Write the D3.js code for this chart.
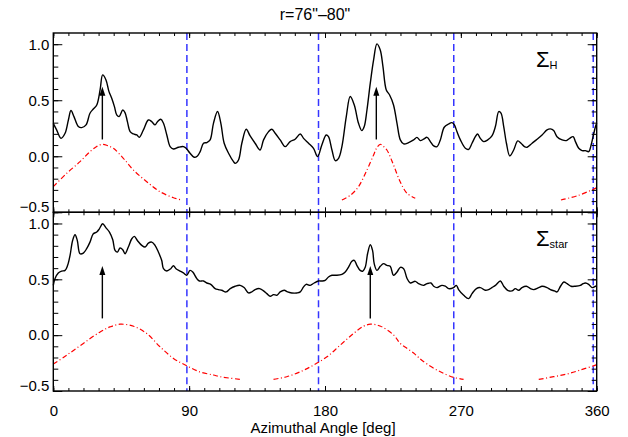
<!DOCTYPE html>
<html><head><meta charset="utf-8">
<script src="https://cdn.jsdelivr.net/npm/d3@7"></script>
<style>body{margin:0;background:#fff}text{font-family:"Liberation Sans",Arial,sans-serif}</style>
</head><body>
<svg id="c" width="628" height="437"></svg>
<script>
// ---- data ----
const title = 'r=76"\u201380"';
const xLabel = "Azimuthal Angle [deg]";
const xTicks = [0, 90, 180, 270, 360];
const yTicks = [-0.5, 0.0, 0.5, 1.0];
const dashedAngles = [88.5, 175.7, 265.3, 357.7];

const hAngle = [0,2.2,5.1,7.8,10,11.7,13.7,16.6,18.8,21.7,24.3,26.5,28.8,31,32.7,34.9,36.9,38.7,40.5,42,43.6,46,47.5,49.1,50.9,53.1,55.3,57,59.7,63,65.2,67.4,69,71.2,73,75.2,77.4,79.6,82.9,86.2,88,90.6,93.3,95.5,97.3,99.5,101.7,103.9,106.1,108.8,111,113.2,116.1,119.4,120.5,122.7,124.9,127.8,130.4,133.7,137,139.3,142.6,144.8,147,150.3,153.6,156.9,160.2,163.6,165.8,169.1,172.4,175.1,177.9,180.8,182.3,184.6,186.8,189,191.2,194.1,196.7,199.4,202.2,204.4,206,207.8,210,212.2,214.4,216.6,218.4,220.6,222.8,225.4,227.7,229.9,232.1,235.4,238.7,240.9,243.1,245.3,247.6,249.8,252,254.2,256.4,259,261.9,264.1,265.7,267.4,269.7,273,275.2,277.4,279.6,281.1,282.9,285.1,287.8,290.6,292.9,295.1,296.6,298.4,300.2,302.4,305,307.7,309.9,312.1,313.9,317.2,320.5,323.8,327.1,329.3,331.5,333.7,337.1,339.9,342.1,344.4,345.9,348.1,350.3,352.5,354.7,356.3,357.6,359.2,360];
const hValue = [0.294,0.235,0.160,0.205,0.324,0.408,0.354,0.265,0.256,0.280,0.384,0.422,0.458,0.592,0.726,0.681,0.577,0.518,0.443,0.369,0.354,0.413,0.390,0.309,0.220,0.199,0.190,0.169,0.235,0.324,0.309,0.280,0.309,0.330,0.294,0.190,0.086,0.065,0.080,0.086,0.071,0.027,-0.009,0.003,0.041,0.116,0.122,0.146,0.294,0.399,0.294,0.116,0.027,-0.048,-0.063,-0.033,0.116,0.241,0.181,0.116,0.056,0.146,0.220,0.241,0.205,0.146,0.086,0.131,0.152,0.199,0.160,0.116,0.071,-0.003,0.101,0.190,0.175,0.056,-0.039,-0.018,0.086,0.354,0.533,0.458,0.294,0.229,0.265,0.413,0.652,0.860,1.003,0.949,0.800,0.592,0.547,0.458,0.294,0.146,0.110,0.122,0.146,0.169,0.140,0.152,0.169,0.131,0.092,0.086,0.146,0.259,0.288,0.300,0.280,0.220,0.146,0.071,0.062,0.116,0.175,0.199,0.160,0.131,0.146,0.181,0.265,0.399,0.384,0.265,0.116,0.003,0.056,0.137,0.116,0.086,0.080,0.116,0.152,0.190,0.235,0.244,0.229,0.175,0.146,0.140,0.160,0.175,0.131,0.071,0.050,0.050,0.041,0.101,0.175,0.265,0.294];

const sAngle = [0,1.1,3.3,5.5,7.8,9.5,11.1,12.8,14.4,15.9,17.7,19.9,22.1,24.3,26.5,28.8,30.5,32.7,34.9,37.2,39.4,40.9,42.5,44.2,46,47.5,49.7,52,53.7,55.7,58.6,60.8,63,65.2,67.4,69.6,71.8,73,75.2,77.8,79.6,81.3,84,86.2,88.4,90.6,92.4,95.1,96.8,99.5,101.7,104.3,107.2,109.4,111.6,114.5,117.2,120.5,123.8,126.4,129.3,131.5,133.7,136.6,139.3,141.5,143.7,145.9,148.1,150.3,153,155.2,158,161.4,163.6,165.8,167.5,170.2,172.8,175.7,177.9,180.1,182.3,184.6,187.9,191.2,193.4,195.6,197.8,199.4,201.1,203.3,205.1,206.7,208.2,210,211.5,212.6,214.4,216.6,218.8,221,223.2,225.4,227.7,229.9,232.1,234.3,236.5,239.8,242,245.3,247.6,250.2,252,254.2,257.5,259.7,261.9,265.2,267,268.5,271.9,275.2,277.4,280.3,282.9,286.2,288.4,290.6,292.9,296.2,298.4,301,303.9,306.1,308.3,310.5,313.4,316.1,318.3,321.6,323.8,327.1,329.3,332,333.7,336,338.2,340.4,343,345.9,349.2,351,352.5,354.7,356.9,359.2,360];
const sValue = [0.446,0.506,0.557,0.574,0.580,0.625,0.714,0.848,0.899,0.848,0.729,0.735,0.774,0.833,0.908,0.923,0.952,0.997,0.961,0.923,0.854,0.759,0.744,0.780,0.765,0.729,0.789,0.863,0.884,0.848,0.804,0.789,0.824,0.833,0.804,0.744,0.670,0.595,0.574,0.595,0.622,0.595,0.574,0.557,0.536,0.580,0.565,0.506,0.485,0.485,0.467,0.455,0.417,0.408,0.402,0.387,0.417,0.438,0.446,0.426,0.378,0.387,0.408,0.417,0.396,0.372,0.348,0.363,0.357,0.387,0.402,0.387,0.378,0.378,0.387,0.432,0.455,0.446,0.467,0.485,0.485,0.491,0.521,0.536,0.536,0.545,0.566,0.610,0.661,0.670,0.625,0.580,0.574,0.610,0.729,0.810,0.759,0.640,0.580,0.616,0.640,0.625,0.616,0.536,0.565,0.607,0.595,0.510,0.467,0.482,0.461,0.446,0.461,0.467,0.438,0.426,0.446,0.438,0.417,0.426,0.446,0.408,0.357,0.327,0.372,0.417,0.426,0.402,0.408,0.426,0.446,0.485,0.438,0.402,0.396,0.417,0.402,0.426,0.438,0.417,0.408,0.426,0.438,0.426,0.408,0.396,0.387,0.438,0.476,0.461,0.438,0.438,0.446,0.461,0.467,0.455,0.426,0.438,0.440];

// red dash-dot model curves, as [angle, value] segments
const redTopA = [[336.3,-0.39],[347.3,-0.352],[357.7,-0.295],[360,-0.28]];
const redTopB = [[0,-0.271],[8.9,-0.152],[17.7,-0.048],[24.3,0.041],[28.5,0.085],[32.5,0.107],[36,0.095],[39.8,0.071],[46.4,-0.018],[53,-0.122],[61.9,-0.227],[70.7,-0.316],[79.6,-0.37],[85,-0.39]];
const redTopC = [[191.2,-0.39],[197,-0.346],[202.2,-0.271],[207.8,-0.122],[212.2,0.012],[214.5,0.08],[216.6,0.107],[218.5,0.09],[221,0.056],[225.4,-0.078],[229.8,-0.227],[234.3,-0.33],[239.8,-0.375]];
const redBotA = [[321.6,-0.396],[331.5,-0.372],[340.4,-0.348],[349.2,-0.312],[359.2,-0.268],[360,-0.262]];
const redBotB = [[0,-0.259],[8.9,-0.179],[19.9,-0.074],[31,0.029],[37.6,0.074],[44.2,0.098],[53.2,0.08],[61.9,0.015],[70.7,-0.104],[79.6,-0.208],[88.4,-0.274],[97.3,-0.33],[106.1,-0.357],[110.5,-0.372],[123.8,-0.396]];
const redBotC = [[145.9,-0.396],[154.7,-0.372],[163.6,-0.328],[172.4,-0.268],[181.3,-0.194],[190.1,-0.089],[198.9,0.015],[205.5,0.08],[210.2,0.098],[216.8,0.08],[225.6,0.0],[229.8,-0.074],[234.5,-0.12],[238.7,-0.16],[242,-0.2],[247.6,-0.259],[256.4,-0.328],[265.2,-0.378],[271.8,-0.396]];

const arrowTopAngles = [32.5, 214];
const arrowBotAngles = [32.5, 210];
const arrowFrom = 0.15, arrowTo = 0.62;

// ---- layout ----
const svg = d3.select("#c");
const L = 53.3, R = 596.7, T = 33, M = 212.3, B = 391;
const x = d3.scaleLinear([0, 360], [L, R]);
const yTop = d3.scaleLinear([-0.5, 1.1], [M, T]);
const yBot = d3.scaleLinear([-0.5, 1.1], [B, M]);
const minorX = d3.range(0, 361, 10);
const minorY = d3.range(-5, 11, 1).map(d => d / 10);

svg.append("text").attr("x", 315).attr("y", 20).attr("text-anchor", "middle")
  .attr("font-size", 16).text(title);

function panel(y, lineA, lineV, reds, arrows, sub, showXLabels) {
  const g = svg.append("g");
  // blue dashed verticals
  g.selectAll("line.dash").data(dashedAngles).join("line")
    .attr("x1", d => x(d)).attr("x2", d => x(d))
    .attr("y1", y.range()[1]).attr("y2", y.range()[0])
    .attr("stroke", "#3535ff").attr("stroke-width", 1.5).attr("stroke-dasharray", "7,4");
  // red dash-dot
  const rl = d3.line().x(d => x(d[0])).y(d => y(d[1])).curve(d3.curveCatmullRom);
  reds.forEach(seg => g.append("path").attr("d", rl(seg)).attr("fill", "none")
    .attr("stroke", "#ff0000").attr("stroke-width", 1.2).attr("stroke-dasharray", "5,2.5,1,2.5"));
  // black data
  const pts = lineA.map((a, i) => [a, lineV[i]]);
  g.append("path").attr("d", rl(pts)).attr("fill", "none")
    .attr("stroke", "#000").attr("stroke-width", 1.4);
  // arrows
  arrows.forEach(a => {
    g.append("line").attr("x1", x(a)).attr("x2", x(a))
      .attr("y1", y(arrowFrom)).attr("y2", y(arrowTo) + 6)
      .attr("stroke", "#000").attr("stroke-width", 1.4);
    const tx = x(a), ty = y(arrowTo);
    g.append("path").attr("d", `M${tx},${ty}L${tx - 3},${ty + 9}L${tx + 3},${ty + 9}Z`).attr("fill", "#000");
  });
  // axes
  const yMaj = d3.axisLeft(y).tickValues(yTicks).tickSize(-9).tickPadding(4)
    .tickFormat(d => d3.format(".1f")(d).replace("-", "\u2212"));
  const ga = g.append("g").attr("transform", `translate(${L},0)`).call(yMaj);
  ga.selectAll("text").attr("font-size", 15).attr("fill", "#000")
    .attr("dy", d => d === -0.5 ? "-0.05em" : "0.32em");
  g.append("g").attr("transform", `translate(${L},0)`)
    .call(d3.axisLeft(y).tickValues(minorY).tickSize(-5).tickFormat(""));
  g.append("g").attr("transform", `translate(${R},0)`)
    .call(d3.axisRight(y).tickValues(yTicks).tickSize(-9).tickFormat(""));
  g.append("g").attr("transform", `translate(${R},0)`)
    .call(d3.axisRight(y).tickValues(minorY).tickSize(-5).tickFormat(""));
  const yt = y.range()[1], yb = y.range()[0];
  g.append("g").attr("transform", `translate(0,${yt})`)
    .call(d3.axisTop(x).tickValues(xTicks).tickSize(-5).tickFormat(""));
  g.append("g").attr("transform", `translate(0,${yt})`)
    .call(d3.axisTop(x).tickValues(minorX).tickSize(-3).tickFormat(""));
  const gb = g.append("g").attr("transform", `translate(0,${yb})`)
    .call(d3.axisBottom(x).tickValues(xTicks).tickSize(-5).tickPadding(14)
      .tickFormat(showXLabels ? d3.format("d") : ""));
  gb.selectAll("text").attr("font-size", 15).attr("fill", "#000");
  g.append("g").attr("transform", `translate(0,${yb})`)
    .call(d3.axisBottom(x).tickValues(minorX).tickSize(-3).tickFormat(""));
  g.selectAll(".domain").remove();
  g.selectAll(".tick line").attr("stroke", "#000").attr("stroke-width", 1);
  g.append("rect").attr("x", L).attr("y", yt).attr("width", R - L).attr("height", yb - yt)
    .attr("fill", "none").attr("stroke", "#000").attr("stroke-width", 1.4);
  // sigma label
  const t = g.append("text").attr("x", 536).attr("y", yt + 34).attr("fill", "#000");
  t.append("tspan").attr("font-size", 22).text("\u03A3");
  t.append("tspan").attr("font-size", 11).attr("dy", 2).text(sub);
}

panel(yTop, hAngle, hValue, [redTopA, redTopB, redTopC], arrowTopAngles, "H", false);
panel(yBot, sAngle, sValue, [redBotA, redBotB, redBotC], arrowBotAngles, "star", true);

svg.append("text").attr("x", 323).attr("y", 433).attr("text-anchor", "middle")
  .attr("font-size", 15).text(xLabel);
</script>
</body></html>
